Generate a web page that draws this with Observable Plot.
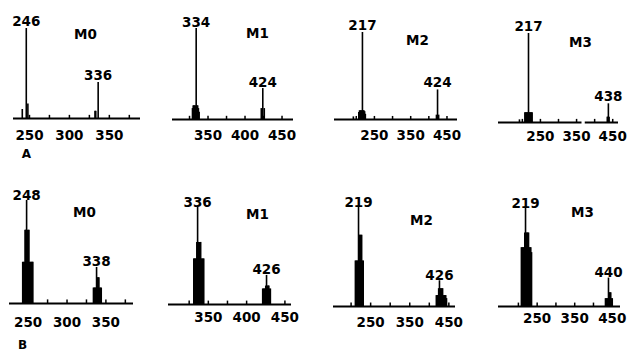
<!DOCTYPE html>
<html><head><meta charset="utf-8">
<script src="https://cdn.jsdelivr.net/npm/d3@7"></script>
<script src="https://cdn.jsdelivr.net/npm/@observablehq/plot@0.6"></script>
<style>
html,body{margin:0;padding:0;background:#fff;}
#chart{position:relative;width:632px;height:352px;overflow:hidden;background:#fff;}
#chart svg{position:absolute;}
</style></head><body><div id="chart"></div>
<script>
// ---- Spectrum data (m/z, relative intensity %) ----
// Row A
const mzA0  = [241, 246, 248, 332, 333, 336];
const intA0 = [10, 100, 16, 8, 8, 40];
const labA0 = [246, 336];

const mzA1  = [329, 330, 331, 332, 333, 334, 335, 336, 337, 338, 422, 424, 426];
const intA1 = [12, 15, 15, 15, 15, 100, 15, 15, 12, 8, 12, 34, 12];
const labA1 = [334, 424];

const mzA2  = [192, 207, 209, 211, 213, 215, 217, 219, 221, 223, 225, 421, 424, 427];
const intA2 = [3, 8, 10, 10, 10, 10, 100, 10, 10, 9, 6, 5, 34, 5];
const labA2 = [217, 424];

const mzA3  = [192, 207, 209, 211, 213, 215, 217, 219, 221, 223, 225, 227, 435, 437, 438, 440];
const intA3 = [3, 11, 11, 11, 11, 11, 100, 11, 11, 11, 11, 11, 6, 6, 21, 6];
const labA3 = [217, 438];

// Row B
const mzB0  = [243, 244, 245, 246, 247, 248, 249, 250, 251, 252, 253, 254, 255, 256,
               334, 335, 336, 337, 338, 339, 340, 341, 342, 343, 344];
const intB0 = [40, 40, 40, 71, 71, 100, 71, 71, 71, 40, 40, 40, 40, 40,
               15, 15, 15, 15, 35, 25, 25, 25, 15, 15, 15];
const labB0 = [248, 338];

const mzB1  = [331, 332, 333, 334, 335, 336, 337, 338, 339, 340, 341, 342, 343, 344,
               421, 422, 423, 424, 425, 426, 427, 428, 429, 430, 431];
const intB1 = [47, 47, 47, 47, 64, 100, 64, 64, 64, 64, 47, 47, 47, 47,
               16, 16, 16, 16, 19, 30, 19, 19, 19, 16, 16];
const labB1 = [336, 426];

const mzB2  = [211, 213, 215, 217, 219, 221, 223, 225, 227, 229, 231,
               418, 420, 422, 424, 426, 428, 430, 432, 434, 436, 438, 440, 442, 444];
const intB2 = [46, 46, 46, 46, 100, 72, 72, 72, 72, 46, 46,
               11, 11, 11, 18, 26, 18, 18, 18, 18, 11, 11, 11, 11, 8];
const labB2 = [219, 426];

const mzB3  = [208, 210, 212, 214, 216, 217, 219, 221, 223, 225, 227, 229, 231, 233, 235,
               432, 434, 436, 438, 440, 442, 444, 446, 448, 450];
const intB3 = [60, 60, 60, 60, 60, 75, 100, 75, 75, 75, 75, 60, 60, 60, 55,
               8, 8, 8, 8, 29, 14, 14, 14, 8, 8];
const labB3 = [219, 440];

// Axis ticks and tick labels
const ticksM0 = [250, 275, 300, 325, 350, 375];
const ticksM1 = [325, 350, 375, 400, 425, 450];
const ticksM23 = [200, 250, 300, 350, 400, 450];
const tickLabM0 = [250, 300, 350];
const tickLabM1 = [350, 400, 450];
const tickLabM23 = [250, 350, 450];

const names = ["M0", "M1", "M2", "M3"];
const rowLetters = ["A", "B"];

// ---- layout per panel (positions only) ----
const FONT = "'DejaVu Sans', 'Liberation Sans', sans-serif";
const PW = 158, PH = 176;
const panels = [
  {row:0,col:0, mz:mzA0, it:intA0, lab:labA0, ticks:ticksM0, tl:tickLabM0, dom:[230,389], seg:[[230,389]], m:[28,18,58,13], nd:[72,6], pad:12, gap:3},
  {row:0,col:1, mz:mzA1, it:intA1, lab:labA1, ticks:ticksM1, tl:tickLabM1, dom:[302,465.5], seg:[[302,465.5]], m:[28,23,57,14], nd:[85,5], pad:11, gap:2},
  {row:0,col:2, mz:mzA2, it:intA2, lab:labA2, ticks:ticksM23, tl:tickLabM23, dom:[140,479], seg:[[140,479]], m:[32,17,57,18], nd:[83,8], pad:11, gap:3},
  {row:0,col:3, mz:mzA3, it:intA3, lab:labA3, ticks:ticksM23, tl:tickLabM23, dom:[134,466], seg:[[134,365],[374,466]], m:[33,14,54,24], nd:[82,9], pad:9, gap:3},
  {row:1,col:0, mz:mzB0, it:intB0, lab:labB0, ticks:ticksM0, tl:tickLabM0, dom:[226,385.5], seg:[[226,385.5]], m:[24,25,49,9], nd:[75,12], pad:14, gap:1},
  {row:1,col:1, mz:mzB1, it:intB1, lab:labB1, ticks:ticksM1, tl:tickLabM1, dom:[298,458.6], seg:[[298,458.6]], m:[31,25,48,10], nd:[89,7], pad:8, gap:1},
  {row:1,col:2, mz:mzB2, it:intB2, lab:labB2, ticks:ticksM23, tl:tickLabM23, dom:[155,467], seg:[[155,467]], m:[31,19,46,17], nd:[88,13], pad:11, gap:1},
  {row:1,col:3, mz:mzB3, it:intB3, lab:labB3, ticks:ticksM23, tl:tickLabM23, dom:[147,472], seg:[[147,472]], m:[32,12,46,24], nd:[84,4], pad:7, gap:1}
];
const letterPos = [[13,36],[13,42]];

const chart = document.getElementById("chart");
panels.forEach(p => {
  const peaks = p.mz.map((mz, i) => ({mz, i: p.it[i]}));
  const labels = p.lab.map(v => peaks.find(d => d.mz === v));
  const marks = [
    Plot.ruleY(p.seg, {x1: d => d[0], x2: d => d[1], y: 0, stroke: "#000", strokeWidth: 2}),
    Plot.ruleX(p.ticks, {x: d => d, y1: 0, y2: 3.5, stroke: "#000", strokeWidth: 1.5}),
    Plot.ruleX(peaks, {x: "mz", y1: 0, y2: "i", stroke: "#000", strokeWidth: 1.6}),
    Plot.text(labels, {x: "mz", y: "i", text: d => String(d.mz), lineAnchor: "bottom", dy: -p.gap, fill: "#000"}),
    Plot.text([names[p.col]], {frameAnchor: "top-left", text: d => d, dx: p.nd[0], dy: p.nd[1], textAnchor: "middle", lineAnchor: "middle", fill: "#000"}),
    Plot.axisX({ticks: p.tl, tickSize: 0, tickPadding: p.pad, tickFormat: d => String(d), label: null, fill: "#000"})
  ];
  if (p.col === 0) {
    const lp = letterPos[p.row];
    marks.push(Plot.text([rowLetters[p.row]], {frameAnchor: "bottom-left", text: d => d, dx: lp[0], dy: lp[1], textAnchor: "middle", lineAnchor: "middle", fontSize: 12, fill: "#000"}));
  }
  const svg = Plot.plot({
    width: PW, height: PH,
    marginTop: p.m[0], marginRight: p.m[1], marginBottom: p.m[2], marginLeft: p.m[3],
    x: {domain: p.dom, label: null},
    y: {domain: [0, 100], axis: null},
    style: {fontFamily: FONT, fontSize: "13.5px", fontWeight: "bold", color: "#000", background: "transparent", overflow: "visible"},
    marks
  });
  svg.style.left = (p.col * PW) + "px";
  svg.style.top = (p.row * PH) + "px";
  chart.appendChild(svg);
});
</script>
</body></html>
